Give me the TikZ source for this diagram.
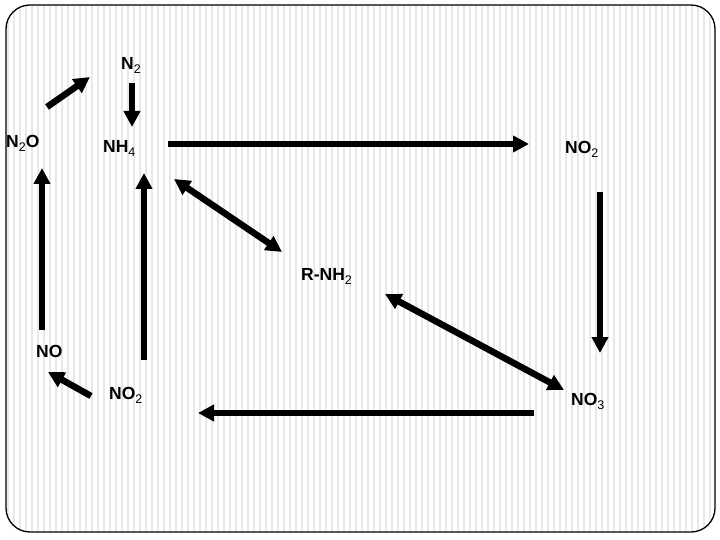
\documentclass[tikz,border=0pt]{standalone}
\usepackage{fontspec}
\setmainfont{Liberation Sans}
\usetikzlibrary{arrows.meta}
\newcommand{\chsub}[1]{\raisebox{-4pt}{\fontseries{m}\fontsize{12.5}{12.5}\selectfont #1}}
\tikzset{
  x=1pt, y=-1pt,
  lbl/.style={anchor=base west, inner sep=0pt, font=\fontsize{17.5}{17.5}\selectfont\bfseries},
  arr/.style={line width=6.5pt, -{Triangle[length=16pt,width=16pt]}},
  darr/.style={line width=6.5pt, {Triangle[length=16pt,width=16pt]}-{Triangle[length=16pt,width=16pt]}},
  hatch/.style={black!9, line width=1.3pt}
}
\begin{document}
\begin{tikzpicture}
\useasboundingbox (0,0) rectangle (720,540);
\fill[white] (0,0) rectangle (720,540);
\begin{scope}
  \clip[rounded corners=24pt] (6,5) rectangle (715,532);
  \foreach \i in {0,...,120} { \draw[hatch] ({8+6*\i},0) -- ({8+6*\i},540); }
\end{scope}
\draw[line width=1.3pt, rounded corners=24pt] (6,5) rectangle (715,532);

% labels
\node[lbl] (n2)   at (121,70)  {N\chsub{2}};
\node[lbl] (n2o)  at (6,148)   {N\chsub{2}O};
\node[lbl] (nh4)  at (103,153) {NH\chsub{4}};
\node[lbl] (no2t) at (565,154) {NO\chsub{2}};
\node[lbl] (rnh2) at (301,280) {R-NH\chsub{2}};
\node[lbl] (no)   at (36,357)  {NO};
\node[lbl] (no2b) at (109,399) {NO\chsub{2}};
\node[lbl] (no3)  at (571,405) {NO\chsub{3}};

% arrow end points
\coordinate (a1s) at (47,107);  \coordinate (a1e) at (90,77);
\coordinate (a2s) at (132,83);  \coordinate (a2e) at (132,127);
\coordinate (a3s) at (168,144); \coordinate (a3e) at (529,144);
\coordinate (a4s) at (174,179); \coordinate (a4e) at (282,252);
\coordinate (a5s) at (600,192); \coordinate (a5e) at (600,353);
\coordinate (a6s) at (385,294); \coordinate (a6e) at (564,390);
\coordinate (a7s) at (534,413); \coordinate (a7e) at (198,413);
\coordinate (a8s) at (144,360); \coordinate (a8e) at (144,173);
\coordinate (a9s) at (91,396);  \coordinate (a9e) at (48,372);
\coordinate (a10s) at (42,330); \coordinate (a10e) at (42,168);

\draw[arr]  (a1s) -- (a1e);
\draw[arr]  (a2s) -- (a2e);
\draw[arr]  (a3s) -- (a3e);
\draw[darr] (a4s) -- (a4e);
\draw[arr]  (a5s) -- (a5e);
\draw[darr] (a6s) -- (a6e);
\draw[arr]  (a7s) -- (a7e);
\draw[arr]  (a8s) -- (a8e);
\draw[arr]  (a9s) -- (a9e);
\draw[arr]  (a10s) -- (a10e);
\end{tikzpicture}
\end{document}
